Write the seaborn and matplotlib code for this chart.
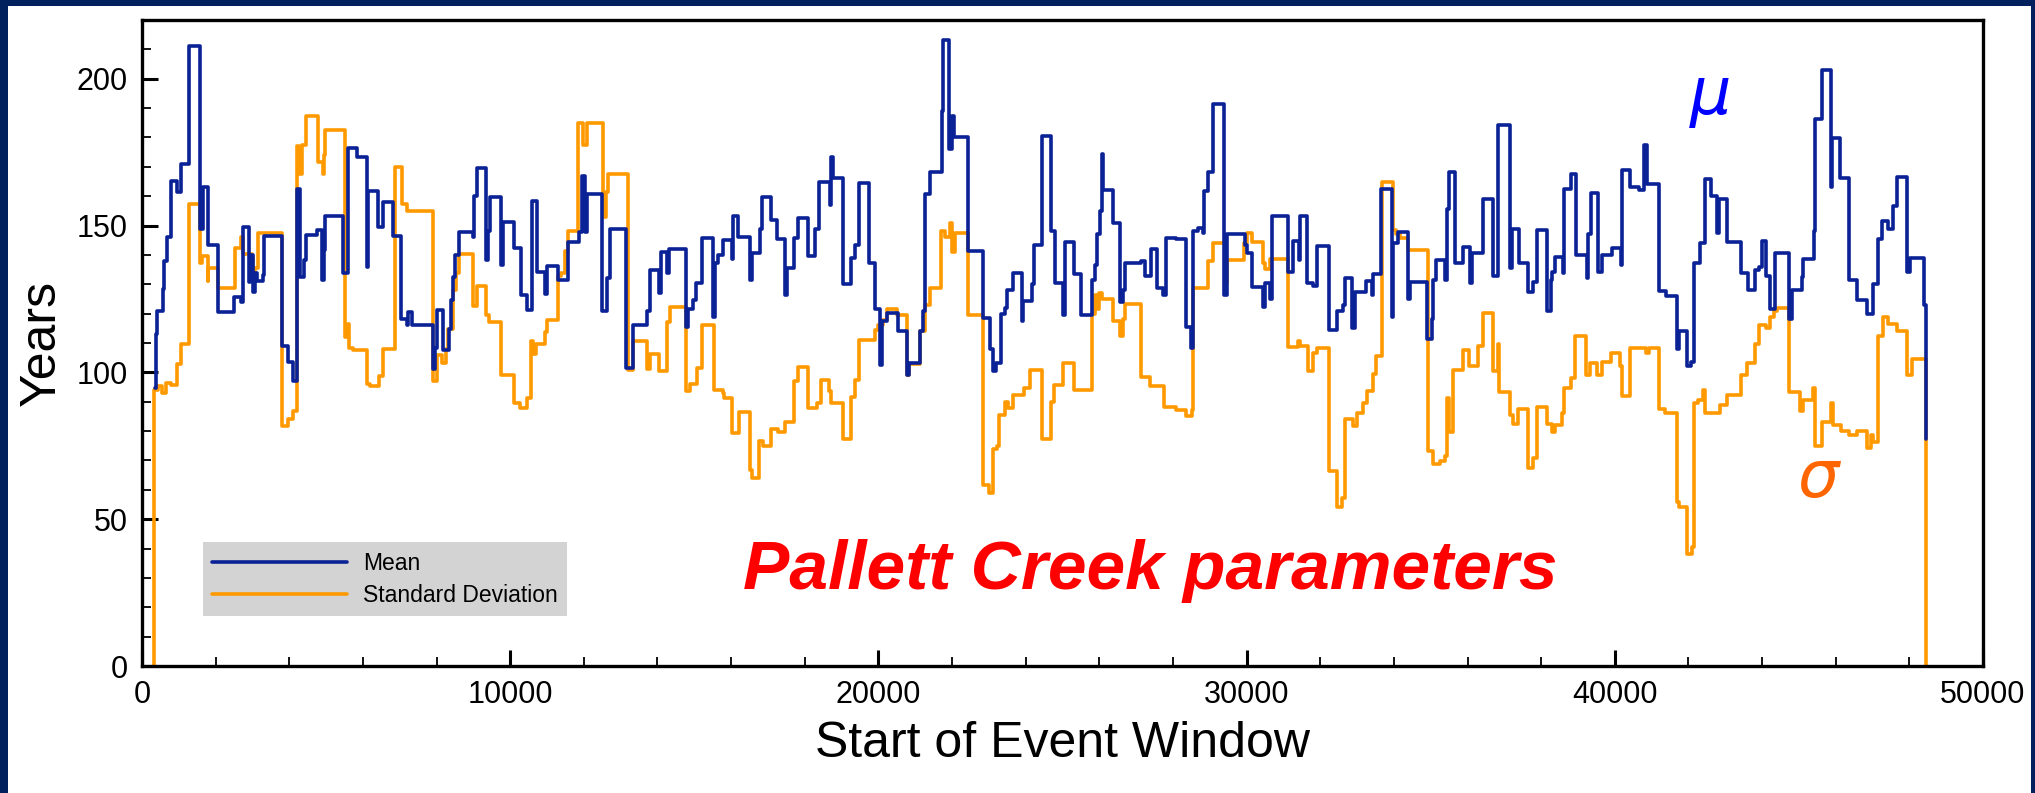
import numpy as np
import pandas as pd
import seaborn as sns
import matplotlib.pyplot as plt
from matplotlib.patches import Rectangle
from matplotlib.ticker import MultipleLocator

# Pallett Creek: mean and standard deviation of recurrence interval per event window
# (step series, value holds until the next window start)
mean_x = [353, 371, 399, 562, 598, 670, 779, 942, 1069, 1277, 1576, 1648, 1802, 2073, 2508,
          2689, 2734, 2897, 2933, 3024, 3069, 3133, 3277, 3314, 3793, 3974, 4110, 4201, 4291,
          4400, 4445, 4744, 4898, 4943, 4970, 5468, 5604, 5830, 6102, 6147, 6419, 6537, 6808,
          7025, 7188, 7234, 7324, 7895, 7958, 8003, 8166, 8347, 8383, 8456, 8501, 8619, 8981,
          9026, 9108, 9343, 9406, 9451, 9750, 9795, 10112, 10293, 10447, 10583, 10737, 10945,
          10991, 11307, 11561, 11878, 11941, 12032, 12095, 12484, 12638, 12711, 13145, 13344,
          13706, 13797, 14050, 14087, 14250, 14322, 14775, 14838, 14974, 15046, 15200, 15517,
          15562, 15653, 15789, 16015, 16042, 16196, 16513, 16558, 16784, 16830, 17074, 17255,
          17463, 17509, 17717, 17826, 18097, 18278, 18396, 18686, 18713, 18758, 19030, 19247,
          19364, 19482, 19754, 19908, 20043, 20089, 20243, 20523, 20786, 20840, 21130, 21202,
          21266, 21401, 21718, 21764, 21926, 21990, 22053, 22424, 22832, 23031, 23122, 23194,
          23330, 23438, 23502, 23665, 23891, 23936, 24163, 24226, 24434, 24679, 24796, 25024,
          25069, 25313, 25494, 25793, 25884, 25929, 26019, 26065, 26110, 26363, 26563, 26653,
          26698, 27124, 27241, 27395, 27558, 27739, 27803, 28083, 28355, 28491, 28554, 28690,
          28826, 28853, 28962, 29097, 29396, 29460, 29958, 30003, 30138, 30437, 30500, 30636,
          30682, 31134, 31252, 31433, 31451, 31650, 31813, 31904, 32248, 32465, 32610, 32673,
          32872, 32945, 33244, 33397, 33443, 33642, 33940, 33986, 34122, 34393, 34439, 34891,
          35027, 35072, 35145, 35389, 35452, 35507, 35661, 35887, 36068, 36113, 36412, 36702,
          36838, 37155, 37200, 37408, 37652, 37788, 37897, 38168, 38259, 38304, 38377, 38585,
          38630, 38811, 38938, 39237, 39264, 39354, 39553, 39644, 39916, 40160, 40187, 40413,
          40666, 40793, 40866, 41210, 41391, 41681, 41753, 41953, 42061, 42152, 42315, 42450,
          42613, 42767, 42830, 43057, 43419, 43609, 43808, 43926, 43989, 44098, 44216, 44351,
          44741, 44804, 45076, 45121, 45411, 45438, 45619, 45863, 45909, 46117, 46370, 46570,
          46841, 47004, 47158, 47249, 47430, 47565, 47674, 47946, 48018, 48408, 48453]
mean_y = [94.6, 113, 120.8, 128.5, 137.8, 146.2, 165.3, 161.4, 170.8, 211, 148.7, 163, 143.5, 120.5, 125.5,
          124, 149.5, 130.9, 140, 127.4, 133.7, 131, 133, 146.4, 109, 103.5, 96.9, 162.5, 132.6,
          138.4, 146.8, 148.5, 131.4, 141.8, 153.3, 134, 176.4, 173.2, 136, 161.6, 149.5, 158, 146.4,
          118.2, 116.1, 120.5, 116, 101, 108.4, 121.3, 107.5, 114.7, 124.5, 132.6, 140, 147.9, 146.2,
          160, 169.7, 138.4, 148, 159.7, 136.4, 151.3, 142.4, 126.3, 121.3, 158.2, 134.3, 126.8,
          136.3, 131.4, 144.4, 147.8, 167, 147.8, 160.8, 121, 132, 148.7, 101.5, 116,
          120.8, 134.9, 127, 140.9, 134, 142, 115.3, 121.7, 124.5, 130.3, 145.6, 118.8,
          137.2, 140.1, 145.1, 138.6, 153.3, 146.2, 131.4, 140.7, 148.7, 159.7, 152, 145.3,
          126.3, 135.7, 145.9, 152.4, 139.7, 148.7, 164.9, 157, 173.5, 166.2, 130.1, 138.9,
          143.5, 164.6, 137.2, 121.7, 102.6, 117.4, 120.2, 114.2, 99, 103.2, 114.2, 121,
          160.8, 168.1, 189, 213.2, 176.1, 187.3, 180.1, 141.2, 118.6, 107.8, 100.3, 103.2,
          119.9, 122, 128.2, 134, 117.6, 124.3, 130.1, 143.5, 180.4, 148.2, 130.5, 119.7,
          144.4, 133.4, 119.4, 131.4, 136.6, 147, 155.1, 174.3, 162, 150.8, 124, 128,
          137.2, 137.8, 132.8, 142, 128.6, 126.3, 145.9, 145.5, 115.3, 108.4, 148.2, 149.3,
          147.6, 161.6, 168.3, 191.4, 126.3, 147, 143.5, 140.7, 129.1, 122.2, 130.5, 125.1,
          153.1, 134.3, 144.7, 138.4, 153.1, 130.5, 129.5, 143.2, 114.4, 121, 123.1, 132,
          115.1, 127.4, 131.1, 126.3, 133.5, 162.3, 118.8, 144.1, 147.8, 125.1, 130.9, 111.3,
          118.2, 131.4, 138.1, 131.4, 155.7, 168.1, 137.4, 142.6, 130.5, 140.7, 158.9, 132.8,
          184.4, 135.7, 148.7, 137.2, 127.4, 130.9, 148.4, 121, 131.4, 134.3, 139.3, 134,
          162.3, 167.7, 140.1, 132, 147, 161, 134.3, 140.1, 142.4, 136.6, 168.9, 163.1,
          162, 177.5, 164, 127.8, 126, 107.8, 114.2, 102.1, 103.6, 137.2, 143.9, 166,
          160, 147.6, 159.1, 144.4, 134, 128.2, 134.9, 135.8, 144.7, 132.8, 121.7, 140.7,
          118.2, 128, 132.6, 138.6, 148.2, 186.2, 202.9, 163.1, 179.8, 166.2, 131.4, 124.5,
          119.9, 130.1, 145.3, 151.6, 148.7, 156.8, 166.4, 134.3, 138.9, 122.8, 77.3]

std_x = [326, 330, 444, 534, 652, 779, 942, 1050, 1277, 1576, 1621, 1784, 1802, 2073, 2526,
         2689, 2752, 2979, 3024, 3069, 3160, 3793, 3974, 4092, 4201, 4273, 4337, 4445, 4771,
         4907, 4943, 4970, 5514, 5604, 5631, 5740, 6102, 6193, 6446, 6537, 6871, 7052, 7188,
         7895, 8003, 8139, 8257, 8320, 8456, 8528, 8619, 8981, 9108, 9343, 9433, 9750, 10112,
         10266, 10447, 10565, 10628, 10701, 10945, 11008, 11307, 11380, 11488, 11561, 11851,
         11987, 12077, 12530, 12602, 12665, 13209, 13344, 13706, 13797, 14050, 14250, 14340,
         14775, 14883, 15064, 15200, 15535, 15789, 15807, 16015, 16223, 16513, 16558, 16766,
         16857, 17074, 17282, 17463, 17717, 17826, 18097, 18323, 18432, 18667, 18713, 19030,
         19247, 19364, 19482, 19908, 19998, 20134, 20225, 20496, 20786, 20840, 21130, 21266,
         21401, 21691, 21809, 21945, 21990, 22080, 22424, 22832, 23013, 23122, 23212, 23285,
         23438, 23529, 23665, 23955, 24118, 24434, 24679, 24770, 25024, 25313, 25793, 25884,
         25929, 26001, 26065, 26363, 26563, 26653, 26698, 27124, 27377, 27758, 28083, 28355,
         28509, 28554, 28962, 29097, 29414, 29460, 29930, 30003, 30138, 30437, 30500, 30636,
         31134, 31406, 31451, 31677, 31813, 31904, 32248, 32447, 32583, 32673, 32881, 32990,
         33171, 33262, 33443, 33515, 33669, 33968, 34058, 34167, 34393, 34918, 35072, 35253,
         35389, 35452, 35507, 35616, 35887, 36050, 36294, 36412, 36702, 36838, 36865, 37155,
         37227, 37381, 37652, 37770, 37879, 38150, 38286, 38377, 38558, 38621, 38802, 38920,
         39219, 39327, 39527, 39644, 39888, 40142, 40187, 40413, 40848, 40939, 41210, 41364,
         41681, 41753, 41953, 42088, 42152, 42270, 42405, 42450, 42858, 43057, 43419, 43600,
         43808, 43926, 44107, 44216, 44324, 44397, 44741, 45030, 45103, 45393, 45438, 45619,
         45863, 45917, 46134, 46370, 46570, 46841, 46950, 47004, 47158, 47276, 47430, 47674,
         47946, 48064, 48440]
std_y = [0, 94, 95.2, 92.9, 96.3, 95.7, 102.9, 109.6, 157.4, 137.4, 139.7, 131.2, 135.5, 128.6, 142.4,
         146.2, 140.4, 138.9, 134, 135.5, 147.6, 81.9, 84, 86.7, 177, 167.7, 177.5, 187.3, 171.8,
         167.4, 174.1, 182.5, 111.9, 116.5, 108.4, 107.5, 96, 95.2, 98.6, 107.8, 170, 157.4, 155.1,
         97.1, 105.9, 103.2, 107.8, 114.7, 128, 133.8, 140.4, 122.5, 129.4, 119.4, 117.1, 99, 89.4,
         87.7, 91.1, 110.7, 106.3, 109.6, 113.6, 117.9, 132.8, 134, 141.2, 148.2, 185,
         177.5, 185, 152.8, 161.4, 167.4, 100.8, 110.7, 101, 106.3, 100.6, 117.1, 122.2,
         93.5, 96, 101.5, 116, 94, 92.9, 91.4, 79.4, 86.5, 66.9, 64, 76.7,
         74.8, 80.8, 79.6, 83, 96.9, 101.7, 87.7, 89.4, 97.5, 93.5, 89.4, 77.3,
         91.7, 97.5, 111, 114.4, 116, 117.9, 121.7, 119.4, 99.2, 102.7, 114.2, 122.8,
         128.9, 148.2, 146.2, 150.8, 140.9, 147.6, 119.4, 61.7, 58.9, 73.9, 74.8, 85.4,
         90, 87.7, 92.3, 94.6, 100.8, 77.3, 90, 95.7, 103.2, 94, 119.9, 126.3,
         121.7, 127.1, 125.1, 117.6, 112.4, 118.2, 123.4, 98.3, 95.5, 88.2, 87.1, 85.1,
         87.1, 128.6, 137.8, 143.9, 130.3, 138.4, 143.9, 147.6, 144.4, 137.2, 135.1, 138.6,
         108.6, 110.7, 109, 100.3, 106.7, 108.4, 66.3, 54.3, 57.1, 84.2, 81.9, 86,
         89.4, 93.7, 99.4, 105.5, 164.9, 148.5, 147, 145.9, 141.8, 73.3, 68.7, 69.8,
         71.5, 91.1, 79.6, 100.9, 107.5, 102.1, 109, 120.2, 100.3, 109.6, 93.2, 85.4,
         82.5, 87.5, 67.5, 71, 88.2, 82.5, 79.6, 82.2, 86, 94.6, 98.1, 112.4,
         99, 103.2, 99.2, 103.6, 106.7, 102.1, 92, 108.4, 106.7, 108.2, 87.5, 86.3,
         56, 54.3, 38.1, 40.4, 89.4, 90.5, 94, 86, 88.8, 92.3, 99, 103.2,
         109.6, 116.2, 115.1, 119, 120.8, 122, 93.2, 86.7, 90.5, 94.6, 75, 83.1,
         89.4, 82.2, 80.2, 78.7, 80.2, 74.1, 78.5, 76.4, 112.4, 118.8, 116.5, 114.2,
         99.2, 104.4, 0]

mean_df = pd.DataFrame({'start': mean_x, 'years': mean_y})
std_df = pd.DataFrame({'start': std_x, 'years': std_y})

sns.set_style('ticks')
plt.rcParams['font.family'] = ['Liberation Sans', 'DejaVu Sans']

navy = '#00205E'
blue = '#0B2196'
orange = '#FF9900'

fig = plt.figure(figsize=(20.35, 7.93), dpi=100)
fig.patch.set_facecolor(navy)
# white slide panel inside the navy frame, kept behind the axes
fig.patches.append(Rectangle((8 / 2035, 0), 2023 / 2035, 787 / 793, transform=fig.transFigure,
                             facecolor='white', edgecolor='none', zorder=-10))

ax = fig.add_axes([142 / 2035, 127 / 793, 1841 / 2035, 646 / 793])
ax.set_facecolor('white')

sns.lineplot(data=mean_df, x='start', y='years', ax=ax, color=blue, lw=2.6,
             drawstyle='steps-post', estimator=None, label='Mean', zorder=3)
sns.lineplot(data=std_df, x='start', y='years', ax=ax, color=orange, lw=2.6,
             drawstyle='steps-post', estimator=None, label='Standard Deviation', zorder=2)

ax.set_xlim(0, 50000)
ax.set_ylim(0, 220)
ax.xaxis.set_major_locator(MultipleLocator(10000))
ax.xaxis.set_minor_locator(MultipleLocator(2000))
ax.yaxis.set_major_locator(MultipleLocator(50))
ax.yaxis.set_minor_locator(MultipleLocator(10))
ax.tick_params(which='major', direction='in', length=11.5, width=2.2, labelsize=22,
               color='black', labelcolor='black', top=False, right=False)
ax.tick_params(which='minor', direction='in', length=6.5, width=1.3, color='black',
               top=False, right=False)
ax.tick_params(axis='x', which='major', pad=10)
ax.tick_params(axis='y', which='major', pad=10)
for s in ax.spines.values():
    s.set_visible(True)
    s.set_linewidth(2.4)
    s.set_color('black')

ax.set_xlabel('Start of Event Window', fontsize=36, labelpad=8, color='black')
ax.set_ylabel('Years', fontsize=36, labelpad=9, color='black')

leg = ax.legend(loc='lower left', bbox_to_anchor=(0.0331, 0.0774), borderaxespad=0,
                fontsize=16.5, handlelength=5.9, handletextpad=0.7, labelspacing=0.4,
                borderpad=0.4, frameon=True, fancybox=False, facecolor='#D3D3D3',
                edgecolor='none', framealpha=1)
for line in leg.get_lines():
    line.set_linewidth(2.6)
for t in leg.get_texts():
    t.set_color('black')

fig.text(743 / 2035, (793 - 589) / 793, 'Pallett Creek parameters', color='#FF0000',
         fontsize=50, fontweight='bold', fontstyle='italic', ha='left', va='baseline')
fig.text(1690 / 2035, (793 - 114.5) / 793, 'μ', color='#0000FF', fontsize=47,
         fontstyle='italic', family=['DejaVu Sans'], ha='left', va='baseline')
fig.text(1797 / 2035, (793 - 497) / 793, 'σ', color='#FF6600', fontsize=47,
         fontstyle='italic', family=['DejaVu Sans'], ha='left', va='baseline')

fig.savefig('out.png', dpi=100, facecolor=fig.get_facecolor())
